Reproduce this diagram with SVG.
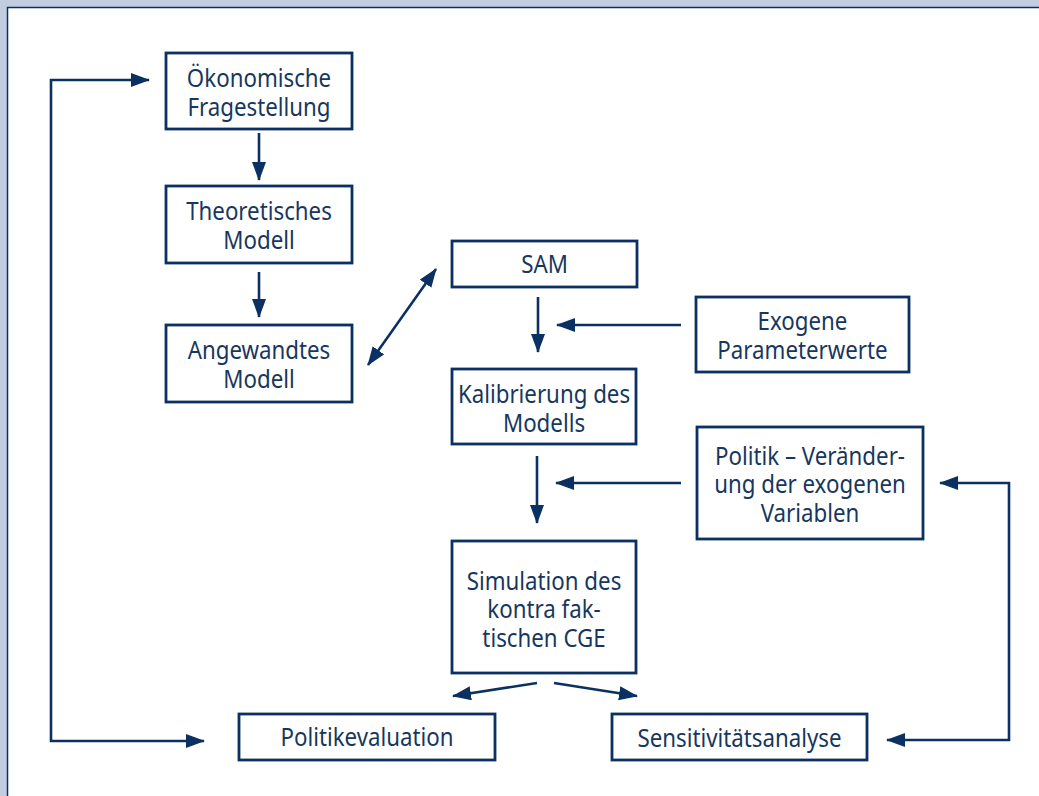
<svg xmlns="http://www.w3.org/2000/svg" width="1039" height="796" viewBox="0 0 1039 796">
<style>
.box{fill:#fff;stroke:#0a3161;stroke-width:2.8}
.lbl{font-family:"Noto Sans","Open Sans","Liberation Sans",sans-serif;font-size:24.5px;fill:#17375e;text-anchor:middle}
.con{fill:none;stroke:#0a3161;stroke-width:2.6}
</style>
<defs>
<marker id="ah" markerUnits="userSpaceOnUse" markerWidth="20" markerHeight="16" refX="18" refY="7" orient="auto-start-reverse">
<path d="M0,0 L19,7 L0,14 z" fill="#0a3161"/>
</marker>
</defs>
<rect x="0" y="0" width="1039" height="796" fill="#c2cddf"/>
<rect x="7.5" y="7.5" width="1040" height="800" fill="#fff" stroke="#0a3161" stroke-width="1.5"/>

<g id="connectors">
<path class="con" d="M259,133 L259,180" marker-end="url(#ah)"/>
<path class="con" d="M259,272 L259,317" marker-end="url(#ah)"/>
<path class="con" d="M368,365 L436,269" marker-start="url(#ah)" marker-end="url(#ah)"/>
<path class="con" d="M538,297 L538,352" marker-end="url(#ah)"/>
<path class="con" d="M681,325 L557,325" marker-end="url(#ah)"/>
<path class="con" d="M537,456 L537,523" marker-end="url(#ah)"/>
<path class="con" d="M681,483 L556,483" marker-end="url(#ah)"/>
<path class="con" d="M537,683 L453,696" marker-end="url(#ah)"/>
<path class="con" d="M554,683 L637,696" marker-end="url(#ah)"/>
<path class="con" d="M149,80 L51,80 L51,741 L204,741" marker-start="url(#ah)" marker-end="url(#ah)"/>
<path class="con" d="M940,483 L1009,483 L1009,740 L887,740" marker-start="url(#ah)" marker-end="url(#ah)"/>
</g>

<g id="n-oekonomische">
<rect class="box" x="166" y="53" width="186" height="76"/>
<text class="lbl" transform="translate(259 0) scale(0.91 1)"><tspan x="0" y="87">Ökonomische</tspan><tspan x="0" y="116">Fragestellung</tspan></text>
</g>
<g id="n-theoretisches">
<rect class="box" x="166" y="186" width="186" height="77"/>
<text class="lbl" transform="translate(259 0) scale(0.91 1)"><tspan x="0" y="220">Theoretisches</tspan><tspan x="0" y="249">Modell</tspan></text>
</g>
<g id="n-angewandtes">
<rect class="box" x="166" y="325" width="186" height="77"/>
<text class="lbl" transform="translate(259 0) scale(0.91 1)"><tspan x="0" y="359">Angewandtes</tspan><tspan x="0" y="388">Modell</tspan></text>
</g>
<g id="n-sam">
<rect class="box" x="452" y="241" width="185" height="46"/>
<text class="lbl" transform="translate(544.5 0) scale(0.91 1)"><tspan x="0" y="273">SAM</tspan></text>
</g>
<g id="n-exogene">
<rect class="box" x="696" y="297" width="213" height="75"/>
<text class="lbl" transform="translate(802.5 0) scale(0.91 1)"><tspan x="0" y="330">Exogene</tspan><tspan x="0" y="359">Parameterwerte</tspan></text>
</g>
<g id="n-kalibrierung">
<rect class="box" x="452" y="369" width="184" height="75"/>
<text class="lbl" transform="translate(544 0) scale(0.91 1)"><tspan x="0" y="403">Kalibrierung des</tspan><tspan x="0" y="432">Modells</tspan></text>
</g>
<g id="n-politik">
<rect class="box" x="697" y="427" width="226" height="112"/>
<text class="lbl" transform="translate(810 0) scale(0.91 1)"><tspan x="0" y="465">Politik – Veränder-</tspan><tspan x="0" y="493.5">ung der exogenen</tspan><tspan x="0" y="522">Variablen</tspan></text>
</g>
<g id="n-simulation">
<rect class="box" x="452" y="541" width="184" height="132"/>
<text class="lbl" transform="translate(544 0) scale(0.91 1)"><tspan x="0" y="590">Simulation des</tspan><tspan x="0" y="618.5">kontra fak-</tspan><tspan x="0" y="647">tischen CGE</tspan></text>
</g>
<g id="n-politikevaluation">
<rect class="box" x="239" y="714" width="256" height="46"/>
<text class="lbl" transform="translate(367 0) scale(0.91 1)"><tspan x="0" y="746">Politikevaluation</tspan></text>
</g>
<g id="n-sensitivitaet">
<rect class="box" x="612" y="714" width="255" height="46"/>
<text class="lbl" transform="translate(739.5 0) scale(0.91 1)"><tspan x="0" y="747">Sensitivitätsanalyse</tspan></text>
</g>
</svg>
